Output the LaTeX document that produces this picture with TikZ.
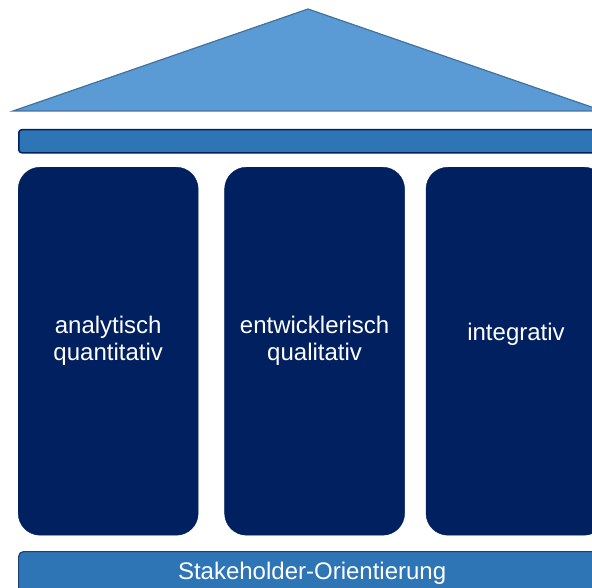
\documentclass[tikz,border=0pt]{standalone}
\usepackage{fontspec}
\setmainfont{Liberation Sans}
\usetikzlibrary{positioning}
\definecolor{roofblue}{HTML}{5B9BD5}
\definecolor{roofedge}{HTML}{41719C}
\definecolor{beamblue}{HTML}{2E75B6}
\definecolor{navy}{HTML}{002060}
\definecolor{baseedge}{HTML}{1F3F73}
\tikzstyle{roof} = [fill=roofblue, draw=roofedge, line width=1.2bp, line join=miter]
\tikzstyle{beam} = [draw=navy, fill=beamblue, rectangle, rounded corners=3bp, line width=1.5bp, minimum width=587bp, minimum height=23bp, inner sep=0pt, anchor=north west]
\tikzstyle{pillar} = [draw=navy, fill=navy, rectangle, rounded corners=22bp, minimum width=180bp, minimum height=368bp, inner sep=0pt]
\tikzstyle{pillartext} = [text=white, align=center, font=\fontsize{24bp}{27bp}\selectfont]
\tikzstyle{base} = [draw=baseedge, fill=beamblue, rectangle, rounded corners=5bp, line width=1.2bp, minimum width=587bp, minimum height=44bp, inner sep=0pt, anchor=north west, text=white, font=\fontsize{24bp}{27bp}\selectfont]

\begin{document}
\begin{tikzpicture}[x=1bp, y=-1bp, node distance=26bp]
        \useasboundingbox (0,0) rectangle (592,588);
        \clip (0,0) rectangle (592,588);
        % roof
        \coordinate (eaveL) at (13,111);
        \coordinate (ridge) at (308,9);
        \coordinate (eaveR) at (603,111);
        \path[roof] (eaveL) -- (ridge) -- (eaveR) -- cycle;
        % beam under the roof
        \node[beam] (beam) at (18,129) {};
        % pillars
        \node[pillar, anchor=north west, label={[pillartext, yshift=10bp]center:analytisch\\quantitativ}] (pillarA) at (18,167) {};
        \node[pillar, right=26bp of pillarA, label={[pillartext, yshift=10bp]center:entwicklerisch\\qualitativ}] (pillarB) {};
        \node[pillar, right=21bp of pillarB, label={[pillartext, yshift=17bp]center:integrativ}] (pillarC) {};
        % foundation
        \node[base] (base) at (18,551) {Stakeholder-Orientierung};
    \end{tikzpicture}
\end{document}
